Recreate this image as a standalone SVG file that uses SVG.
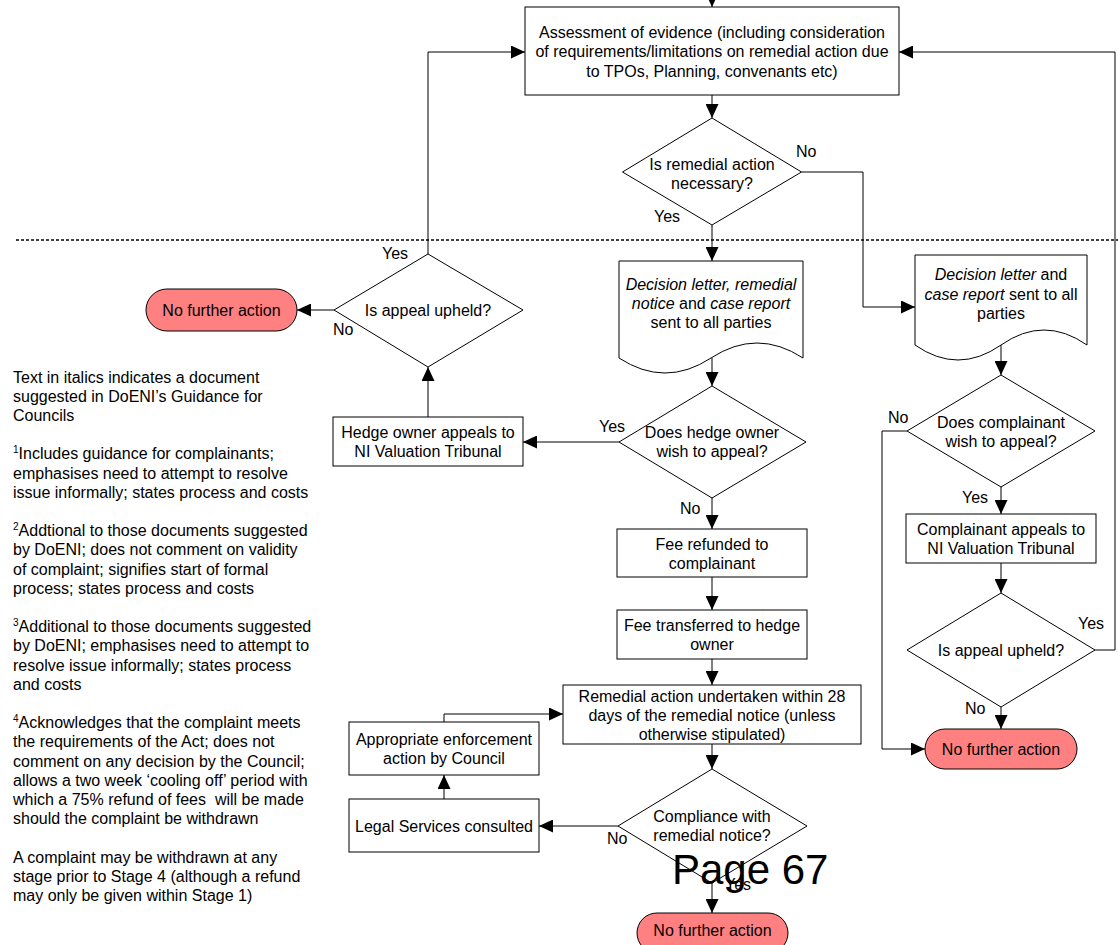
<svg xmlns="http://www.w3.org/2000/svg" width="1118" height="945" viewBox="0 0 1118 945">
<defs>
<style>
text{font-family:"Liberation Sans",Arial,sans-serif;font-size:16px;fill:#000}
.c{text-anchor:middle}
.it{font-style:italic}
.box{fill:#fff;stroke:#000;stroke-width:1}
.term{fill:#ff8080;stroke:#000;stroke-width:1}
.arr{fill:none;stroke:#000;stroke-width:1;marker-end:url(#ah)}
.sup{font-size:10px}
</style>
<marker id="ah" markerUnits="userSpaceOnUse" markerWidth="14" markerHeight="13" refX="14" refY="6.5" orient="auto">
<path d="M0,0 L14,6.5 L0,13 z" fill="#000"/>
</marker>
</defs>
<rect width="1118" height="945" fill="#fff"/>
<line x1="16" y1="240" x2="1118" y2="240" stroke="#000" stroke-width="1.3" stroke-dasharray="3 2"/>

<g id="connectors">
<path class="arr" d="M712,-5 V7"/>
<path class="arr" d="M712,95 V118"/>
<path class="arr" d="M801.5,172 H863 V307 H915"/>
<path class="arr" d="M712,225 V261"/>
<path class="arr" d="M712,358 V386"/>
<path class="arr" d="M619,442 H523"/>
<path class="arr" d="M428,417 V367"/>
<path class="arr" d="M428,254 V52 H525"/>
<path class="arr" d="M334,310 H297"/>
<path class="arr" d="M712,498 V529"/>
<path class="arr" d="M712,577 V610"/>
<path class="arr" d="M712,659 V685"/>
<path class="arr" d="M712,744 V769"/>
<path class="arr" d="M618,826 H539"/>
<path class="arr" d="M444,799 V775"/>
<path class="arr" d="M444,722 V714 H563"/>
<path class="arr" d="M712,883 V913"/>
<path class="arr" d="M1001,345 V375"/>
<path class="arr" d="M907,431 H882 V749 H925"/>
<path class="arr" d="M1001,487 V514"/>
<path class="arr" d="M1001,563 V593"/>
<path class="arr" d="M1095,650 H1115 V52 H899"/>
<path class="arr" d="M1001,707 V729"/>
<text x="796" y="157">No</text>
<text x="654" y="222">Yes</text>
<text x="599" y="432">Yes</text>
<text x="680" y="514">No</text>
<text x="382" y="259">Yes</text>
<text x="333" y="335">No</text>
<text x="607" y="844">No</text>
<text x="725" y="890">Yes</text>
<text x="888" y="423">No</text>
<text x="962" y="503">Yes</text>
<text x="1078" y="629">Yes</text>
<text x="965" y="714">No</text>
</g>

<g id="assessment">
<rect class="box" x="525" y="7" width="374" height="88"/>
<text class="c" x="712" y="37.5">Assessment of evidence (including consideration</text>
<text class="c" x="712" y="57">of requirements/limitations on remedial action due</text>
<text class="c" x="712" y="76.5">to TPOs, Planning, convenants etc)</text>
</g>

<g id="remedial-necessary">
<polygon class="box" points="712,118 801.5,172 712,225 622.5,172"/>
<text class="c" x="712" y="169.5">Is remedial action</text>
<text class="c" x="712" y="188.5">necessary?</text>
</g>

<g id="doc-remedial">
<path class="box" d="M619,261 H803 V358 Q757,328 711,358 T619,358 Z"/>
<text class="c" x="711" y="290"><tspan class="it">Decision letter, remedial</tspan></text>
<text class="c" x="711" y="309"><tspan class="it">notice</tspan> and <tspan class="it">case report</tspan></text>
<text class="c" x="711" y="328">sent to all parties</text>
</g>

<g id="doc-no-remedial">
<path class="box" d="M915,255 H1087 V345 Q1044,315 1001,345 T915,345 Z"/>
<text class="c" x="1001" y="279.5"><tspan class="it">Decision letter</tspan> and</text>
<text class="c" x="1001" y="299.5"><tspan class="it">case report</tspan> sent to all</text>
<text class="c" x="1001" y="318.5">parties</text>
</g>

<g id="hedge-appeal-q">
<polygon class="box" points="712,386 806,442 712,498 619,442"/>
<text class="c" x="712" y="437.5">Does hedge owner</text>
<text class="c" x="712" y="456.5">wish to appeal?</text>
</g>

<g id="hedge-appeals">
<rect class="box" x="333" y="417" width="190" height="49"/>
<text class="c" x="428" y="437.5">Hedge owner appeals to</text>
<text class="c" x="428" y="456.5">NI Valuation Tribunal</text>
</g>

<g id="appeal-upheld-left">
<polygon class="box" points="428,254 523,310 428,367 334,310"/>
<text class="c" x="428" y="315.5">Is appeal upheld?</text>
</g>

<g id="nfa-left">
<rect class="term" x="146" y="289" width="151" height="42" rx="21"/>
<text class="c" x="221.5" y="315.5">No further action</text>
</g>

<g id="fee-refunded">
<rect class="box" x="617" y="529" width="190" height="48"/>
<text class="c" x="712" y="549.5">Fee refunded to</text>
<text class="c" x="712" y="568.5">complainant</text>
</g>

<g id="fee-transferred">
<rect class="box" x="617" y="610" width="190" height="49"/>
<text class="c" x="712" y="630.5">Fee transferred to hedge</text>
<text class="c" x="712" y="649.5">owner</text>
</g>

<g id="remedial-action">
<rect class="box" x="563" y="685" width="298" height="59"/>
<text class="c" x="712" y="701.5">Remedial action undertaken within 28</text>
<text class="c" x="712" y="720.5">days of the remedial notice (unless</text>
<text class="c" x="712" y="739.5">otherwise stipulated)</text>
</g>

<g id="compliance-q">
<polygon class="box" points="712,769 807,826 712,883 618,826"/>
<text class="c" x="712" y="821.5">Compliance with</text>
<text class="c" x="712" y="840.5">remedial notice?</text>
</g>

<g id="legal-services">
<rect class="box" x="349" y="799" width="190" height="53"/>
<text class="c" x="444" y="831.5">Legal Services consulted</text>
</g>

<g id="enforcement">
<rect class="box" x="349" y="722" width="190" height="53"/>
<text class="c" x="444" y="744.5">Appropriate enforcement</text>
<text class="c" x="444" y="763.5">action by Council</text>
</g>

<g id="nfa-bottom">
<rect class="term" x="637" y="913" width="151" height="40" rx="20"/>
<text class="c" x="712.5" y="935.5">No further action</text>
</g>

<g id="complainant-appeal-q">
<polygon class="box" points="1001,375 1095,431 1001,487 907,431"/>
<text class="c" x="1001" y="427.5">Does complainant</text>
<text class="c" x="1001" y="446.5">wish to appeal?</text>
</g>

<g id="complainant-appeals">
<rect class="box" x="906" y="514" width="190" height="49"/>
<text class="c" x="1001" y="534.5">Complainant appeals to</text>
<text class="c" x="1001" y="553.5">NI Valuation Tribunal</text>
</g>

<g id="appeal-upheld-right">
<polygon class="box" points="1001,593 1095,650 1001,707 907,650"/>
<text class="c" x="1001" y="655.5">Is appeal upheld?</text>
</g>

<g id="nfa-right">
<rect class="term" x="925" y="729" width="152" height="40" rx="20"/>
<text class="c" x="1001" y="754.5">No further action</text>
</g>

<g id="notes">
<text x="13" y="382.5">Text in italics indicates a document</text>
<text x="13" y="401.7">suggested in DoENI’s Guidance for</text>
<text x="13" y="420.9">Councils</text>
<text x="13" y="459.3"><tspan class="sup" dy="-6">1</tspan><tspan dy="6">Includes guidance for complainants;</tspan></text>
<text x="13" y="478.5">emphasises need to attempt to resolve</text>
<text x="13" y="497.7">issue informally; states process and costs</text>
<text x="13" y="536.1"><tspan class="sup" dy="-6">2</tspan><tspan dy="6">Addtional to those documents suggested</tspan></text>
<text x="13" y="555.3">by DoENI; does not comment on validity</text>
<text x="13" y="574.5">of complaint; signifies start of formal</text>
<text x="13" y="593.7">process; states process and costs</text>
<text x="13" y="632.1"><tspan class="sup" dy="-6">3</tspan><tspan dy="6">Additional to those documents suggested</tspan></text>
<text x="13" y="651.3">by DoENI; emphasises need to attempt to</text>
<text x="13" y="670.5">resolve issue informally; states process</text>
<text x="13" y="689.7">and costs</text>
<text x="13" y="728.1"><tspan class="sup" dy="-6">4</tspan><tspan dy="6">Acknowledges that the complaint meets</tspan></text>
<text x="13" y="747.3">the requirements of the Act; does not</text>
<text x="13" y="766.5">comment on any decision by the Council;</text>
<text x="13" y="785.7">allows a two week ‘cooling off’ period with</text>
<text x="13" y="804.9" xml:space="preserve">which a 75% refund of fees  will be made</text>
<text x="13" y="824.1">should the complaint be withdrawn</text>
<text x="13" y="862.5">A complaint may be withdrawn at any</text>
<text x="13" y="881.7">stage prior to Stage 4 (although a refund</text>
<text x="13" y="900.9">may only be given within Stage 1)</text>
</g>

<text x="672" y="884" style="font-size:42px">Page 67</text>
</svg>
